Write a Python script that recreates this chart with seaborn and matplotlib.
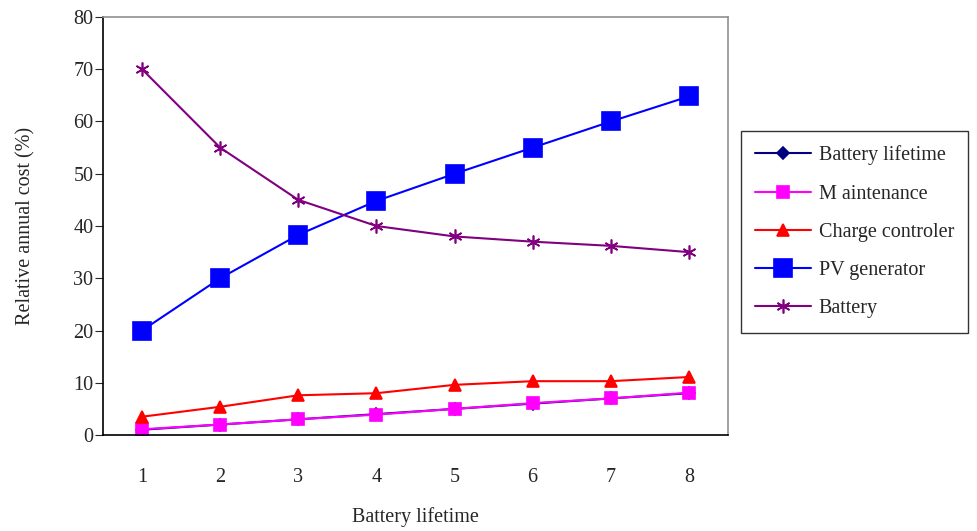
import numpy as np
import pandas as pd
import matplotlib
matplotlib.use('Agg')
import matplotlib.pyplot as plt
import seaborn as sns

# --- data ---
lifetime = [1, 2, 3, 4, 5, 6, 7, 8]
battery_lifetime = [1, 2, 3, 4, 5, 6, 7, 8]
maintenance = [1.1, 2.0, 3.0, 3.9, 5.0, 6.1, 7.0, 8.1]
charge_controler = [3.5, 5.4, 7.6, 8.0, 9.6, 10.3, 10.3, 11.1]
pv_generator = [20, 30, 38.3, 44.8, 50, 55, 60, 64.8]
battery = [70, 55, 45, 40, 38, 37, 36.2, 35]

SERIES = [
    ("Battery lifetime", battery_lifetime, "#000080", "D", 6),
    ("M aintenance", maintenance, "#FF00FF", "s", 8),
    ("Charge controler", charge_controler, "#FF0000", "^", 9),
    ("PV generator", pv_generator, "#0000FF", "s", 13),
    ("Battery", battery, "#800080", (6, 2, 0), 10),
]

FS = 14.5

sns.set_style("white")
plt.rcParams['font.family'] = ['Liberation Serif', 'DejaVu Serif']

fig = plt.figure(figsize=(9.77, 5.31), dpi=100)
ax = fig.add_axes([103 / 977, 1 - 435 / 531, (728 - 103) / 977, (435 - 17) / 531])

for name, vals, color, marker, ms in SERIES:
    df = pd.DataFrame({"x": lifetime, "y": vals})
    sns.lineplot(data=df, x="x", y="y", ax=ax, color=color, marker=marker,
                 markersize=ms, markeredgecolor=color, markeredgewidth=1.2,
                 linewidth=1.5, label=name)

ax.set_xlim(0.5, 8.5)
ax.set_ylim(0, 80)
ax.set_yticks(np.arange(0, 81, 10))
ax.set_xticks(np.arange(0.5, 8.6, 1))
ax.set_xticklabels([])
ax.set_xticks(lifetime, minor=True)
ax.set_xticklabels([str(v) for v in lifetime], minor=True)
ax.tick_params(axis="x", which="major", direction="in", length=6, color="black")
ax.tick_params(axis="x", which="minor", length=0, pad=24, labelsize=FS)
ax.tick_params(axis="y", direction="out", length=6, left=True, labelsize=FS, pad=1)

for side in ["left", "bottom"]:
    ax.spines[side].set_color("black")
    ax.spines[side].set_linewidth(1.2)
for side in ["top", "right"]:
    ax.spines[side].set_color("#909090")
    ax.spines[side].set_linewidth(1.2)

ax.set_xlabel("Battery lifetime", fontsize=FS, labelpad=14)
ax.set_ylabel("Relative annual cost (%)", fontsize=FS, labelpad=27)

leg = ax.legend(loc="center left", bbox_to_anchor=(731 / 977, 1 - 232 / 531),
                bbox_transform=fig.transFigure, fontsize=FS, frameon=True,
                fancybox=False, edgecolor="black", handlelength=2.75,
                labelspacing=0.95, borderpad=0.7, handletextpad=0.4)
leg.get_frame().set_linewidth(1.0)

plt.savefig("out.png", dpi=100)
plt.close()
